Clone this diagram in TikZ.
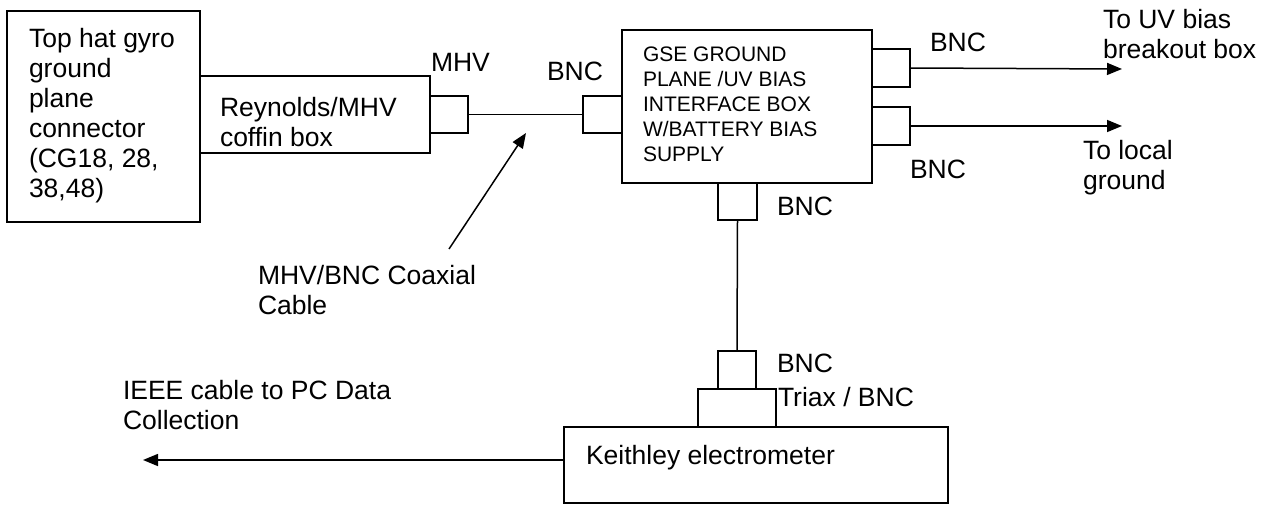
\documentclass[tikz,border=0pt]{standalone}
\usepackage{fontspec}
\setmainfont{Liberation Sans}
\usetikzlibrary{arrows.meta}
\tikzset{
  bx/.style={draw, line width=1.5pt, inner sep=0pt, outer sep=0pt, anchor=north west},
  lab/.style={inner sep=0pt, outer sep=0pt, anchor=north west, align=left, font=\fontsize{26.5}{30}\selectfont},
  smalllab/.style={inner sep=0pt, outer sep=0pt, anchor=north west, align=left, font=\fontsize{21}{25}\selectfont},
  wire/.style={line width=1.5pt},
  arr/.style={line width=1.5pt, -{Triangle[length=15pt,width=12pt]}}
}
\begin{document}
\begin{tikzpicture}[x=1pt,y=-1pt]
\useasboundingbox (0,0) rectangle (1268,505);
% boxes
\node[bx, minimum width=193pt, minimum height=211pt] (top) at (7,11) {};
\node[bx, minimum width=230pt, minimum height=77pt] (coffin) at (200,76) {};
\node[bx, minimum width=38pt, minimum height=37pt] (mhv) at (430,96) {};
\node[bx, minimum width=39pt, minimum height=37pt] (bncA) at (583,96) {};
\node[bx, minimum width=250pt, minimum height=153pt] (gse) at (622,30) {};
\node[bx, minimum width=38pt, minimum height=38pt] (bncR1) at (872,49) {};
\node[bx, minimum width=38pt, minimum height=38pt] (bncR2) at (872,107) {};
\node[bx, minimum width=39pt, minimum height=37pt] (bncB) at (718,183) {};
\node[bx, minimum width=38pt, minimum height=38pt] (bncK) at (718,351) {};
\node[bx, minimum width=78pt, minimum height=38pt] (triax) at (698,389) {};
\node[bx, minimum width=384pt, minimum height=76pt] (keith) at (564,427) {};
% texts
\node[lab] (toptxt) at (29,28) {Top hat gyro\\ground\\plane\\connector\\(CG18, 28,\\38,48)};
\node[lab] (coffintxt) at (220,97) {Reynolds/MHV\\coffin box};
\node[lab] (mhvlab) at (431,53) {MHV};
\node[lab] (bncAlab) at (547,62) {BNC};
\node[smalllab] (gsetxt) at (643,47) {GSE GROUND\\PLANE /UV BIAS\\INTERFACE BOX\\W/BATTERY BIAS\\SUPPLY};
\node[lab] (bncR1lab) at (930,33) {BNC};
\node[lab] (bncR2lab) at (910,160) {BNC};
\node[lab] (uvlab) at (1103,9) {To UV bias\\breakout box};
\node[lab] (locallab) at (1083,140) {To local\\ground};
\node[lab] (bncBlab) at (777,197) {BNC};
\node[lab] (coaxlab) at (258,265) {MHV/BNC Coaxial\\Cable};
\node[lab] (ieeelab) at (123,380) {IEEE cable to PC Data\\Collection};
\node[lab] (bncKlab) at (777,354) {BNC};
\node[lab] (triaxlab) at (778,387) {Triax / BNC};
\node[lab] (keithlab) at (586,445) {Keithley electrometer};
% coordinates for free ends
\coordinate (uvend) at (1122,69);
\coordinate (localend) at (1122,126);
\coordinate (ieeeend) at (143,460);
\coordinate (coaxtail) at (449,249);
\coordinate (coaxtip) at (526,133);
% connectors
\draw[wire] (mhv.east) -- (bncA.west);
\draw[arr] (bncR1.east) -- (uvend);
\draw[arr] (bncR2.east) -- (localend);
\draw[wire] (bncB.south) -- (bncK.north);
\draw[arr] (ieeeend -| keith.west) -- (ieeeend);
\draw[arr] (coaxtail) -- (coaxtip);
\end{tikzpicture}
\end{document}
